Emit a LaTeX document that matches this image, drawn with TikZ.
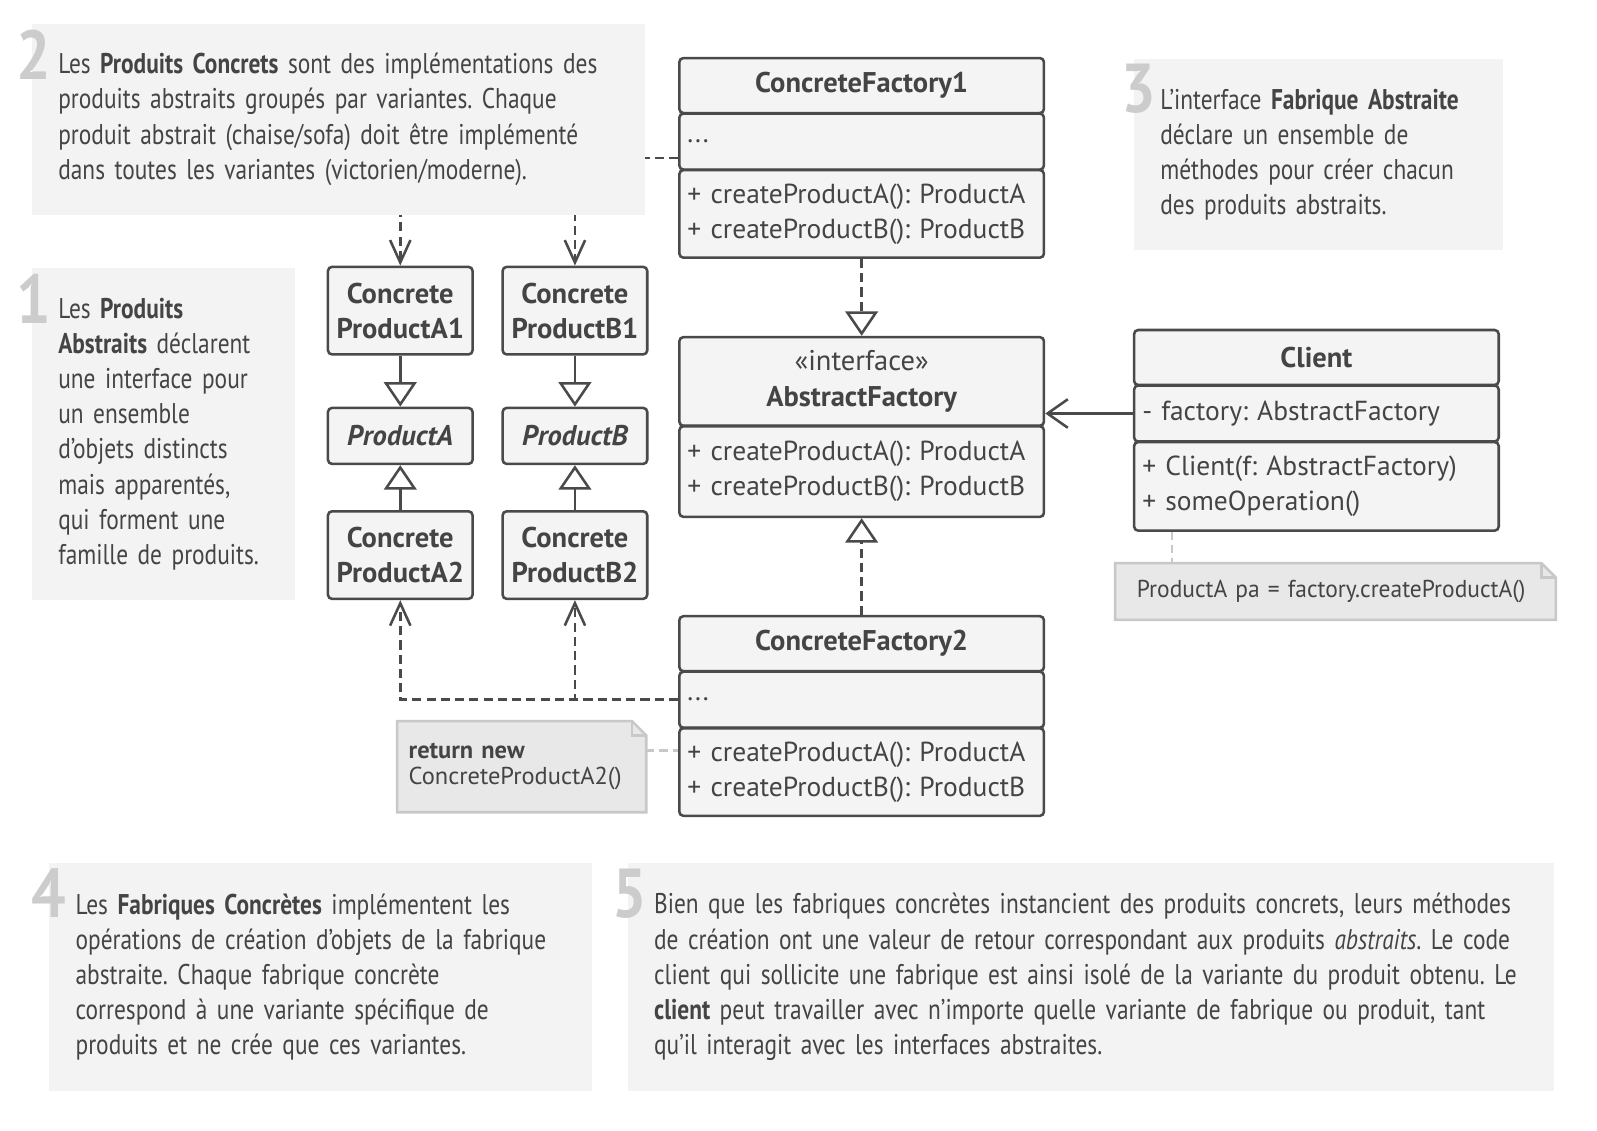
\documentclass[tikz,border=0pt]{standalone}
\usepackage{fontspec}
\setmainfont{PT Sans}
\newfontfamily\narrowfont[FakeStretch=0.82]{PT Sans}
\newfontfamily\digitfont[FakeStretch=0.88]{PT Sans}
\newfontfamily\memonarrow[FakeStretch=0.96]{PT Sans}
\usetikzlibrary{arrows.meta, positioning}
\frenchspacing

\definecolor{ink}{HTML}{444444}
\definecolor{wire}{HTML}{4A4A4A}
\definecolor{boxfill}{HTML}{F4F4F4}
\definecolor{panel}{HTML}{F3F3F3}
\definecolor{digit}{HTML}{CCCCCC}
\definecolor{memo}{HTML}{E8E8E8}
\definecolor{memoline}{HTML}{C8C8C8}

\newcommand{\bodyfont}{\narrowfont\fontsize{28}{34.5}\selectfont\hyphenpenalty=10000 }
\newcommand{\umlfont}{\fontsize{27}{34.5}\selectfont\hyphenpenalty=10000 }
\newcommand{\memofont}{\fontsize{24}{25}\selectfont}
\newcommand{\tline}[1]{\mbox{#1}} % one printed line, never wrapped

\begin{document}
\begin{tikzpicture}[
        x = 1pt, y = -1pt, % pixel grid of the picture
        line width = 2.5pt,
        cls/.style = {draw = wire, fill = boxfill, rounded corners = 4pt, text = ink,
                      minimum width = 358pt, inner sep = 0pt, font = \umlfont},
        hd/.style = {cls, align = center, font = \umlfont\fontsize{28}{36}\selectfont\bfseries},
        mem/.style = {cls, align = left, text width = 342pt, inner xsep = 8pt},
        prod/.style = {cls, align = center, minimum width = 142pt, text width = 142pt,
                       font = \umlfont\fontsize{28}{34.5}\selectfont\bfseries},
        panel/.style = {fill = panel, text = ink, align = left, inner xsep = 26pt,
                        inner ysep = 0pt, font = \bodyfont, anchor = north west},
        num/.style = {text = digit, inner sep = 0pt, anchor = north west,
                      font = \digitfont\fontsize{68}{68}\selectfont\bfseries},
        memo/.style = {fill = memo, text = ink, align = left, inner ysep = 0pt,
                       font = \memofont, anchor = north west},
        dep/.style = {draw = wire, dash pattern = on 9pt off 5pt,
                      -{Straight Barb[length = 22pt, width = 20pt]}},
        impl/.style = {draw = wire, dash pattern = on 9pt off 5pt,
                       -{Triangle[open, length = 24pt, width = 32pt]}},
        inh/.style = {draw = wire, -{Triangle[open, length = 24pt, width = 32pt]}},
        assoc/.style = {draw = wire, -{Straight Barb[length = 20pt, width = 28pt]}},
        link/.style = {draw = memoline, dash pattern = on 8pt off 5pt}
    ]
    \useasboundingbox (0,0) rectangle (1568,1109.5);

    % factories
    \node[hd, minimum height = 54pt] (cf1h) at (846,84) {ConcreteFactory1};
    \node[mem, minimum height = 55pt, below = -2pt of cf1h] (cf1f) {...};
    \node[mem, minimum height = 86pt, below = -2pt of cf1f] (cf1m)
        {+ createProductA(): ProductA\\+ createProductB(): ProductB};

    \node[hd, minimum height = 87pt, align = center] (afh) at (846,374.5)
        {\mdseries«interface»\\AbstractFactory};
    \node[mem, minimum height = 89pt, below = -2pt of afh] (afm)
        {+ createProductA(): ProductA\\+ createProductB(): ProductB};

    \node[hd, minimum height = 54pt] (cf2h) at (846,632) {ConcreteFactory2};
    \node[mem, minimum height = 55pt, below = -2pt of cf2h] (cf2f) {...};
    \node[mem, minimum height = 86pt, below = -2pt of cf2f] (cf2m)
        {+ createProductA(): ProductA\\+ createProductB(): ProductB};

    % client
    \node[hd, minimum height = 54pt] (clh) at (1292.5,351) {Client};
    \node[mem, minimum height = 55pt, below = -2pt of clh] (clf) {- factory: AbstractFactory};
    \node[mem, minimum height = 87pt, below = -2pt of clf] (clm)
        {+ Client(f: AbstractFactory)\\+ someOperation()};

    % products
    \node[prod, minimum height = 86pt] (pa1) at (393,305) {Concrete\\ProductA1};
    \node[prod, minimum height = 55pt, below = 50pt of pa1] (pa) {\itshape ProductA};
    \node[prod, minimum height = 86pt, below = 44pt of pa] (pa2) {Concrete\\ProductA2};
    \node[prod, minimum height = 86pt, right = 27pt of pa1] (pb1) {Concrete\\ProductB1};
    \node[prod, minimum height = 55pt, below = 50pt of pb1] (pb) {\itshape ProductB};
    \node[prod, minimum height = 86pt, below = 44pt of pb] (pb2) {Concrete\\ProductB2};

    % connectors
    \coordinate (cf1out) at ([yshift = -16pt]cf1f.west);
    \draw[dep] (cf1out) -| (pa1);
    \draw[dep] (cf1out) -| (pb1);
    \draw[dep] (cf2f.west) -| (pa2);
    \draw[dep] (cf2f.west) -| (pb2);
    \draw[impl] (cf1m) -- (afh);
    \draw[impl] (cf2h) -- (afm);
    \draw[inh] (pa1) -- (pa);
    \draw[inh] (pa2) -- (pa);
    \draw[inh] (pb1) -- (pb);
    \draw[inh] (pb2) -- (pb);
    \draw[assoc] (clf.west) -- (clf.west -| afh.east);

    % notes
    \node[memo, minimum width = 430pt, minimum height = 53pt, inner xsep = 20pt,
          text width = 390pt] (m1) at (1095,553)
          {\memonarrow\tline{ProductA pa = factory.createProductA()}};
    \node[memo, minimum width = 242pt, minimum height = 87pt, inner xsep = 10pt,
          text width = 222pt] (m2) at (390,708) {\textbf{return new}\\ConcreteProductA2()};
    \foreach \m in {m1, m2} {
        \fill[white] ([xshift = -14pt]\m.north east) -- (\m.north east)
            -- ([yshift = -14pt]\m.north east) -- cycle;
        \draw[memoline] (\m.north west) -- ([xshift = -14pt]\m.north east)
            -- ([yshift = -14pt]\m.north east) -- (\m.south east) -- (\m.south west) -- cycle;
        \draw[memoline] ([xshift = -14pt]\m.north east) |- ([yshift = -14pt]\m.north east);
    }
    \draw[link] ([xshift = -142pt]clm.south) -- ([xshift = -142pt]clm.south |- m1.north);
    \coordinate (m2out) at ([yshift = 16pt]m2.east);
    \draw[link] (m2out) -- (m2out -| cf2m.west);

    % explanation panels
    \node[panel, text width = 550pt, minimum height = 188pt] (t2) at (30,22)
        {\tline{Les \textbf{Produits Concrets} sont des implémentations des}\\
         \tline{produits abstraits groupés par variantes. Chaque}\\
         \tline{produit abstrait (chaise/sofa) doit être implémenté}\\
         \tline{dans toutes les variantes (victorien/moderne).}};
    \node[panel, text width = 206pt, minimum height = 326pt] (t1) at (30,262)
        {\tline{Les \textbf{Produits}}\\ \tline{\textbf{Abstraits} déclarent}\\
         \tline{une interface pour}\\ \tline{un ensemble}\\ \tline{d’objets distincts}\\
         \tline{mais apparentés,}\\ \tline{qui forment une}\\ \tline{famille de produits.}};
    \node[panel, text width = 310pt, minimum height = 187pt] (t3) at (1112,57)
        {\tline{L’interface \textbf{Fabrique Abstraite}}\\ \tline{déclare un ensemble de}\\
         \tline{méthodes pour créer chacun}\\ \tline{des produits abstraits.}};
    \node[panel, text width = 481pt, minimum height = 224pt] (t4) at (47,846)
        {\tline{Les \textbf{Fabriques Concrètes} implémentent les}\\
         \tline{opérations de création d’objets de la fabrique}\\
         \tline{abstraite. Chaque fabrique concrète}\\
         \tline{correspond à une variante spécifique de}\\
         \tline{produits et ne crée que ces variantes.}};
    \node[panel, text width = 858pt, minimum height = 224pt] (t5) at (615,846)
        {\tline{Bien que les fabriques concrètes instancient des produits concrets, leurs méthodes}\\
         \tline{de création ont une valeur de retour correspondant aux produits \textit{abstraits}. Le code}\\
         \tline{client qui sollicite une fabrique est ainsi isolé de la variante du produit obtenu. Le}\\
         \tline{\textbf{client} peut travailler avec n’importe quelle variante de fabrique ou produit, tant}\\
         \tline{qu’il interagit avec les interfaces abstraites.}};

    \node[num] at ([xshift = -15pt, yshift = -6pt]t2.north west) {2};
    \node[num] at ([xshift = -15pt, yshift = -6pt]t1.north west) {1};
    \node[num] at ([xshift = -12pt, yshift = -5pt]t3.north west) {3};
    \node[num] at ([xshift = -17pt, yshift = -6pt]t4.north west) {4};
    \node[num] at ([xshift = -15pt, yshift = -6pt]t5.north west) {5};
\end{tikzpicture}
\end{document}
